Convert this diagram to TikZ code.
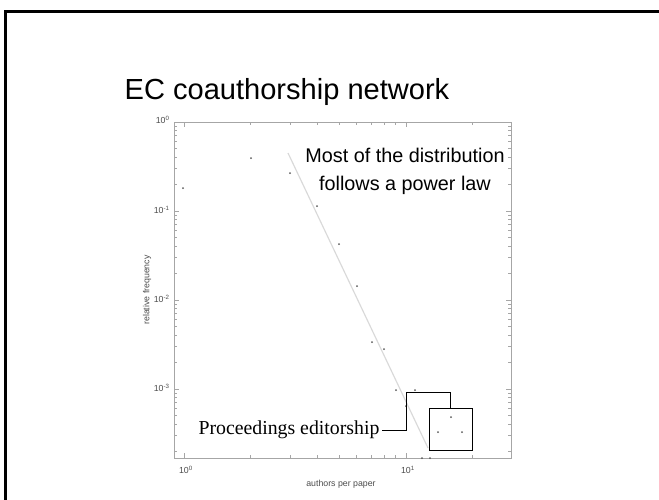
\documentclass[tikz,border=0pt]{standalone}
\usepackage{fontspec}
\setmainfont{Liberation Sans}
\newfontfamily\timesfont{Liberation Serif}
\usetikzlibrary{positioning}

\tikzset{
    axisline/.style={draw=black!35, line width=0.7pt},
    ticklbl/.style={text=black!70, font=\fontsize{7.5}{9}\selectfont, inner sep=1pt},
    datapt/.style={fill=black!65},
}

\begin{document}
\begin{tikzpicture}[x=0.03cm, y=-0.03cm]
    \useasboundingbox (0,0) rectangle (659,500);
    \draw[line width=2.4pt] (659,11.5) -- (5.5,11.5) -- (5.5,500);

    \node[font=\fontsize{24.8}{28}\selectfont] (title) at (287,92) {EC coauthorship network};

    % log-log axes
    \draw[axisline] (174,122) rectangle (511,458);
    \foreach \v in {2,...,9,20}
        \draw[axisline] ({184+222*log10(\v)},458) -- ++(0,-3)
                        ({184+222*log10(\v)},122) -- ++(0,3);
    \foreach \v in {0,1}
        \draw[axisline] ({184+222*\v},458) -- ++(0,-5)
                        ({184+222*\v},122) -- ++(0,5);
    \foreach \e in {1,...,4}
        \foreach \k in {2,...,9}
            \draw[axisline] (174,{122+89*(\e-log10(\k))}) -- ++(3,0)
                            (511,{122+89*(\e-log10(\k))}) -- ++(-3,0);
    \foreach \e in {1,2,3}
        \draw[axisline] (174,{122+89*\e}) -- ++(5,0)
                        (511,{122+89*\e}) -- ++(-5,0);

    \node[ticklbl, anchor=east] (y0) at (171,120) {10\textsuperscript{0}};
    \node[ticklbl, anchor=east] (y1) at (171,210) {10\textsuperscript{-1}};
    \node[ticklbl, anchor=east] (y2) at (171,299) {10\textsuperscript{-2}};
    \node[ticklbl, anchor=east] (y3) at (171,388) {10\textsuperscript{-3}};
    \node[ticklbl] (x0) at (186,470) {10\textsuperscript{0}};
    \node[ticklbl] (x1) at (408,470) {10\textsuperscript{1}};
    \node[ticklbl, rotate=90] (ylab) at (147,290) {relative frequency};
    \node[ticklbl] (xlab) at (341,484) {authors per paper};

    % fitted power law
    \draw[black!15, line width=1pt] (288,153) -- (428,448);

    \foreach \p in {(183,188),(251,158),(290,173),(317,206),(339,244),(357,286),
                    (372,342),(384,349),(396,390),(406,406),(415,390),
                    (422,458),(430,458),(438,432),(451,417),(462,432)}
        \fill[datapt] \p circle (1);

    \node[align=center, font=\fontsize{16.9}{23.8}\selectfont] (powerlaw) at (405,171)
        {Most of the distribution\\follows a power law};

    \node[draw, line width=0.8pt, minimum width=1.29cm, minimum height=1.26cm] (edbox) at (450.5,429) {};
    \node[anchor=east, inner sep=2pt, font=\timesfont\fontsize{16.9}{20}\selectfont] (editors) at (382,430)
        {Proceedings editorship};
    \draw[line width=0.8pt] (editors.east) -| (406,392) -| (edbox.north);
\end{tikzpicture}
\end{document}
